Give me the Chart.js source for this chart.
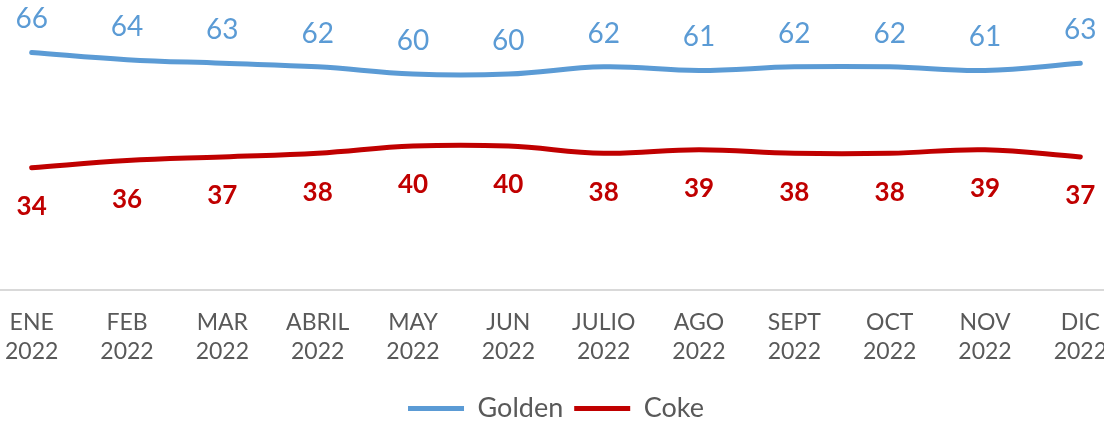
<!DOCTYPE html>
<html>
<head>
<meta charset="utf-8">
<script src="https://cdn.jsdelivr.net/npm/chart.js@4.4.0/dist/chart.umd.min.js"></script>
<style>
  html, body { margin: 0; padding: 0; background: #fff; overflow: hidden; }
  #wrap { width: 1104px; height: 422px; overflow: hidden; position: relative; }
  /* chart is a bit bigger than the window, first/last category cut like the original */
  #lineChart { position: absolute; left: -16px; top: 0; }
</style>
</head>
<body>
<div id="wrap"><canvas id="lineChart" width="1144" height="432"></canvas></div>
<script>
// months + values
const months = ["ENE", "FEB", "MAR", "ABRIL", "MAY", "JUN", "JULIO", "AGO", "SEPT", "OCT", "NOV", "DIC"];
const year = "2022";
const golden = [66, 64, 63, 62, 60, 60, 62, 61, 62, 62, 61, 63];
const coke = [34, 36, 37, 38, 40, 40, 38, 39, 38, 38, 39, 37];

const colors = {
    golden: "#5B9BD5",
    coke: "#C00000",
    text: "#595959",
    axis: "#D9D9D9",
};
const fontFamily = "Lato, 'Open Sans', sans-serif";

// draws the value labels (blue above, red bold below)
const valueLabels = {
    id: "valueLabels",
    afterDatasetsDraw(chart) {
        const ctx = chart.ctx;
        ctx.save();
        ctx.textAlign = "center";
        ctx.textBaseline = "middle";
        chart.data.datasets.forEach((ds, i) => {
            const meta = chart.getDatasetMeta(i);
            meta.data.forEach((pt, j) => {
                if (i === 0) {
                    ctx.font = "28px " + fontFamily;
                    ctx.fillStyle = colors.golden;
                    ctx.fillText(ds.data[j], pt.x, pt.y - 33);
                } else {
                    ctx.font = "bold 26px " + fontFamily;
                    ctx.fillStyle = colors.coke;
                    ctx.fillText(ds.data[j], pt.x, pt.y + 39);
                }
            });
        });
        ctx.restore();
    }
};

const ctx = document.getElementById("lineChart").getContext("2d");
const chart = new Chart(ctx, {
    type: "line",
    data: {
        labels: months.map(m => [m, year]),
        datasets: [{
            label: "Golden",
            data: golden,
            borderColor: colors.golden,
            backgroundColor: colors.golden,
            borderWidth: 5,
            borderCapStyle: "round",
            pointRadius: 0,
            tension: 0.4,
        }, {
            label: "Coke",
            data: coke,
            borderColor: colors.coke,
            backgroundColor: colors.coke,
            borderWidth: 5,
            borderCapStyle: "round",
            pointRadius: 0,
            tension: 0.4,
        }],
    },
    options: {
        responsive: false,
        maintainAspectRatio: false,
        animation: false,
        layout: {
            padding: { left: 0, right: 0, top: 2, bottom: 0 }
        },
        plugins: {
            legend: {
                position: "bottom",
                labels: {
                    usePointStyle: true,
                    pointStyle: "line",
                    pointStyleWidth: 56,
                    color: colors.text,
                    font: { family: fontFamily, size: 27 },
                    padding: 11,
                },
            },
            tooltip: { enabled: false },
        },
        scales: {
            x: {
                offset: true,
                grid: { display: false, drawTicks: false },
                border: { display: true, color: colors.axis, width: 2 },
                ticks: {
                    autoSkip: false,
                    maxRotation: 0,
                    color: colors.text,
                    font: { family: fontFamily, size: 23, lineHeight: 1.3 },
                    padding: 17,
                },
            },
            y: {
                display: false,
                min: 0,
                max: 80,
            },
        },
    },
    plugins: [valueLabels],
});
</script>
</body>
</html>
